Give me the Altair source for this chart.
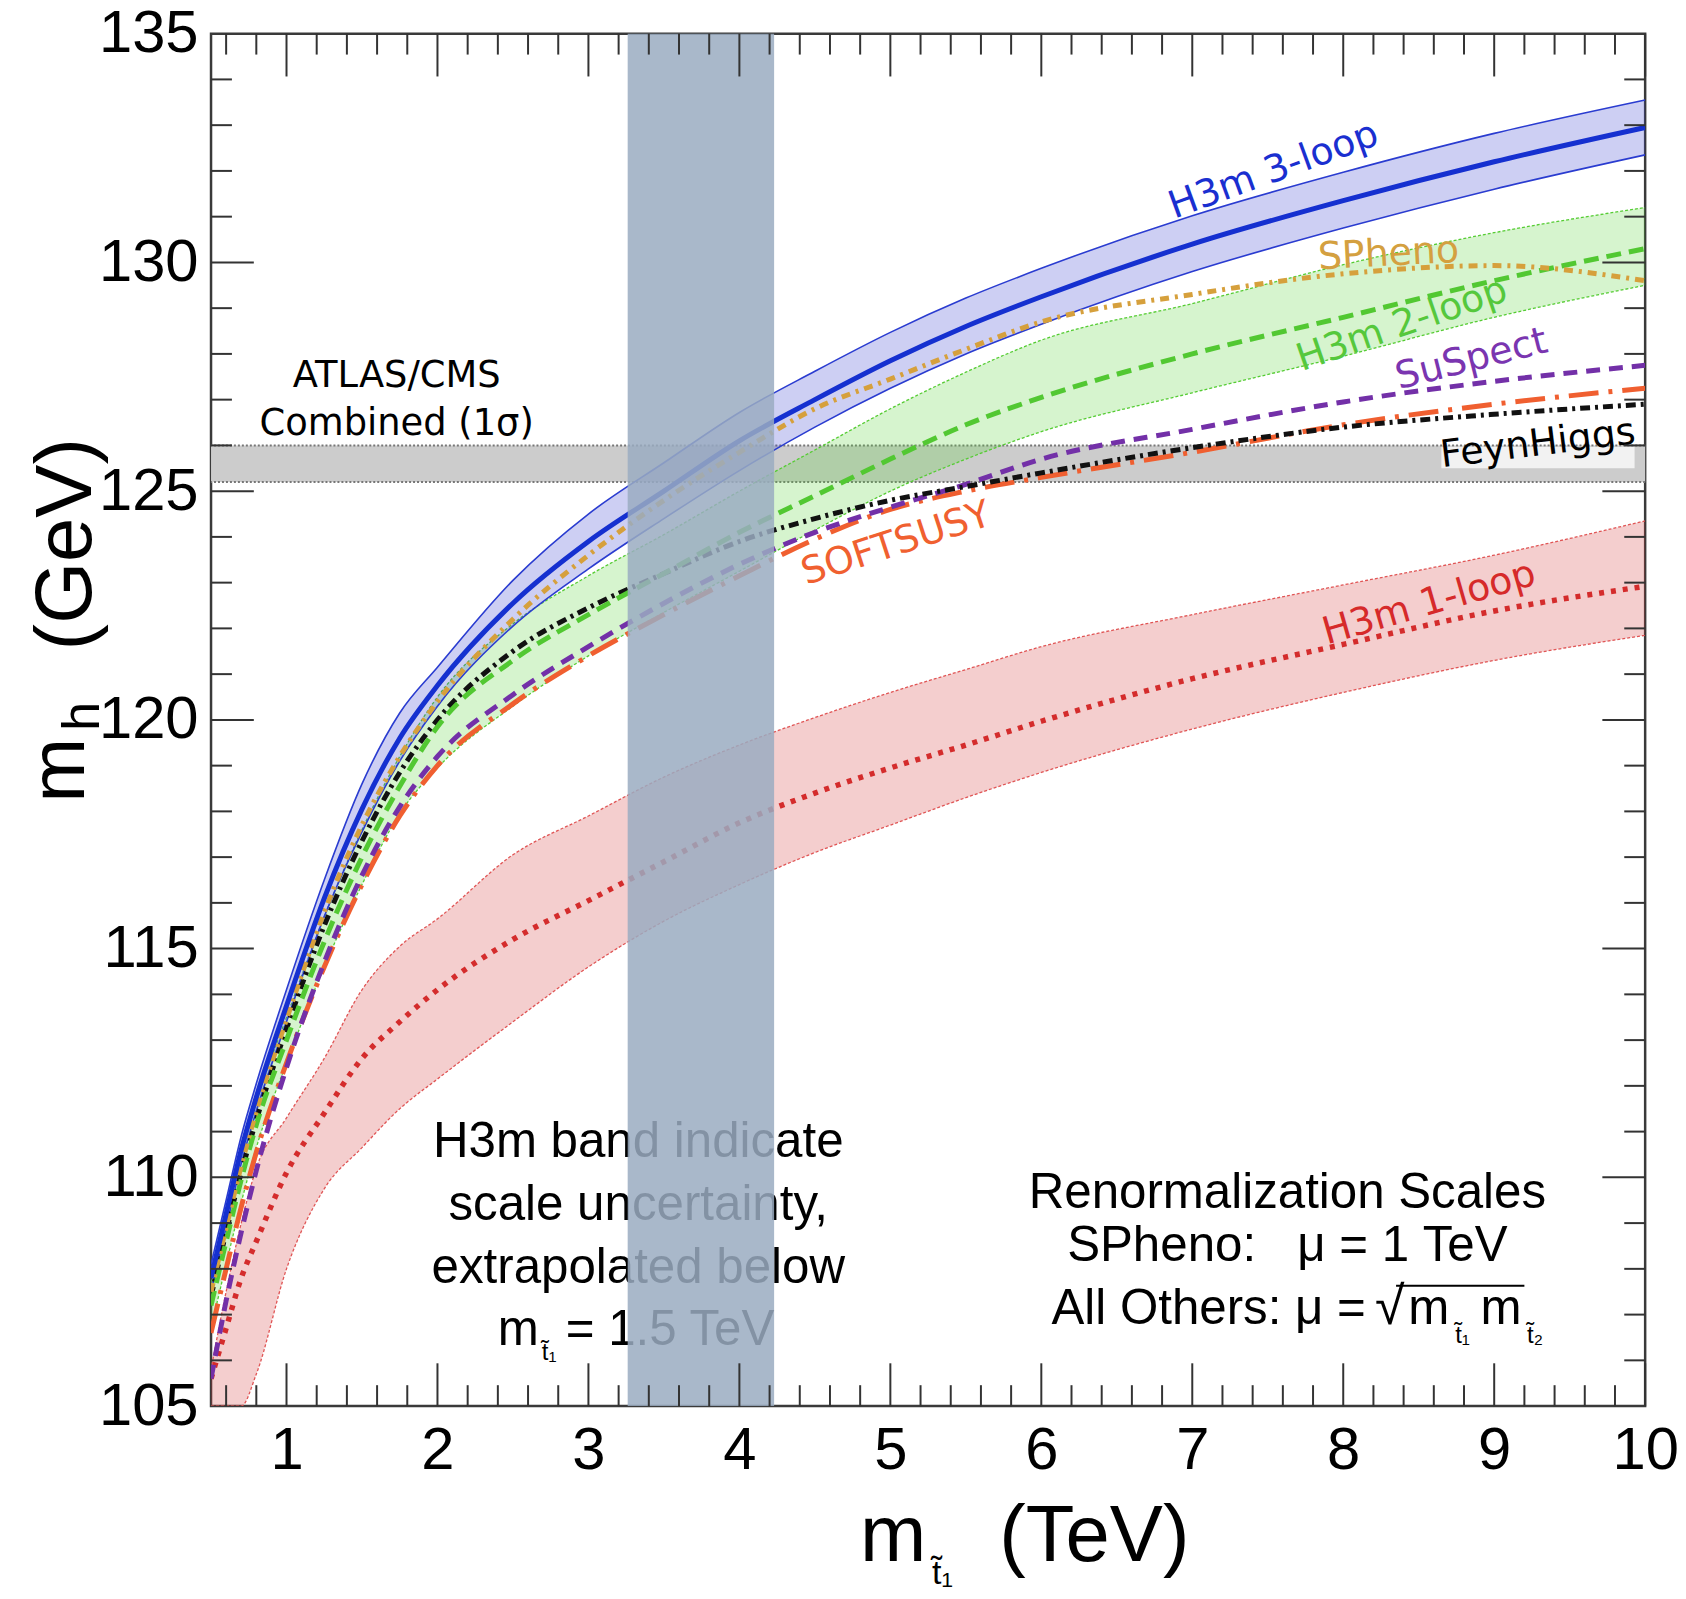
import altair as alt
import pandas as pd

# ---------------- data ----------------
X = [0.5, 0.6, 0.7, 0.8, 1.0, 1.25, 1.5, 1.75, 2.0, 2.5, 3.0, 3.5, 4.0, 4.5, 5.0, 5.5, 6.0, 7.0, 8.0, 9.0, 10.0]

H3M3_MID = [107.8, 109.2, 110.6, 111.75, 113.75, 116.1, 118.05, 119.6, 120.75, 122.55, 123.9, 125.0, 126.1, 127.0, 127.85, 128.6, 129.25, 130.4, 131.35, 132.2, 132.95]
H3M3_UP = [108.1, 109.5, 110.9, 112.05, 114.1, 116.5, 118.6, 120.15, 121.15, 123.05, 124.5, 125.62, 126.72, 127.62, 128.47, 129.22, 129.87, 131.02, 131.97, 132.82, 133.55]
H3M3_LO = [107.5, 108.9, 110.3, 111.45, 113.4, 115.7, 117.55, 119.1, 120.3, 122.05, 123.3, 124.4, 125.45, 126.4, 127.25, 128.0, 128.65, 129.8, 130.75, 131.6, 132.35]

H3M2_MID = [107.2, 108.6, 109.95, 111.15, 113.0, 115.15, 117.0, 118.55, 119.85, 121.3, 122.3, 123.2, 124.1, 124.9, 125.7, 126.45, 127.05, 128.0, 128.8, 129.6, 130.3]
H3M2_UP = [107.7, 109.1, 110.45, 111.65, 113.5, 115.7, 117.6, 119.2, 120.5, 122.1, 123.15, 124.05, 125.0, 125.9, 126.8, 127.6, 128.3, 129.1, 129.95, 130.65, 131.2]
H3M2_LO = [106.7, 108.1, 109.45, 110.65, 112.5, 114.6, 116.4, 117.95, 118.95, 120.3, 121.4, 122.35, 123.25, 124.15, 125.0, 125.7, 126.3, 127.15, 127.95, 128.8, 129.5]

H3M1_MID = [105.6, 106.7, 107.8, 108.6, 110.1, 111.4, 112.6, 113.4, 114.1, 115.2, 116.05, 116.9, 117.75, 118.4, 118.95, 119.45, 119.97, 120.9, 121.65, 122.38, 122.92]
H3M1_UP = [105.8, 107.5, 109.0, 110.2, 111.3, 112.6, 114.1, 115.05, 115.65, 117.05, 117.9, 118.75, 119.45, 120.05, 120.6, 121.1, 121.6, 122.3, 122.95, 123.6, 124.35]
H3M1_LO = [105.0, 105.0, 105.0, 105.7, 108.0, 109.75, 110.65, 111.5, 112.15, 113.4, 114.6, 115.6, 116.4, 117.1, 117.7, 118.3, 118.85, 119.8, 120.6, 121.3, 121.85]

SPHENO = [107.5, 108.9, 110.25, 111.45, 113.45, 115.8, 117.7, 119.2, 120.4, 122.2, 123.6, 124.8, 125.85, 126.8, 127.45, 128.1, 128.7, 129.3, 129.75, 129.93, 129.6]
FEYNHIGGS = [107.4, 108.8, 110.1, 111.25, 113.25, 115.5, 117.35, 118.85, 120.0, 121.5, 122.45, 123.2, 123.9, 124.4, 124.8, 125.1, 125.4, 125.95, 126.4, 126.68, 126.9]
SUSPECT = [105.6, 107.3, 108.8, 110.15, 112.4, 114.7, 116.6, 118.1, 119.2, 120.55, 121.6, 122.55, 123.4, 124.1, 124.65, 125.15, 125.7, 126.35, 126.95, 127.4, 127.75]
SOFTSUSY = [106.6, 108.0, 109.35, 110.55, 112.5, 114.6, 116.4, 117.9, 119.0, 120.35, 121.4, 122.3, 123.15, 123.95, 124.6, 125.0, 125.3, 125.85, 126.45, 126.9, 127.25]

LHC_BAND = [125.2, 126.0]          # ATLAS/CMS combined 1 sigma
STOP_BAND = [3.26, 4.23]           # shaded vertical region (TeV)
X_RANGE = [0.5, 10.0]
Y_RANGE = [105.0, 135.0]

X_TICK_LABELS = [1, 2, 3, 4, 5, 6, 7, 8, 9, 10]
Y_TICK_LABELS = [105, 110, 115, 120, 125, 130, 135]
X_MINOR = [round(v / 10, 1) for v in range(6, 100, 2) if v % 10 != 0]
Y_MINOR = [v for v in range(106, 135) if v % 5 != 0]

# ---------------- layout ----------------
W, H = 1441, 1379
MAJ, MIN = 43, 21
HELV = "Liberation Sans"
DEJA = "DejaVu Sans"

xs = alt.Scale(domain=X_RANGE, nice=False, zero=False)
ys = alt.Scale(domain=Y_RANGE, nice=False, zero=False)
xaxis = alt.Axis(values=X_TICK_LABELS, title=None, grid=False, ticks=False, domain=False,
                 labelFontSize=60, labelFont=HELV, labelColor="black", labelPadding=16,
                 labelFlush=False, labelOverlap=False, labelAngle=0, format="d")
yaxis = alt.Axis(values=Y_TICK_LABELS, title=None, grid=False, ticks=False, domain=False,
                 labelFontSize=60, labelFont=HELV, labelColor="black", labelPadding=13,
                 labelFlush=False, labelOverlap=False, format="d")


def ex(f):
    return alt.X(f, type="quantitative", scale=xs, axis=xaxis)


def ey(f):
    return alt.Y(f, type="quantitative", scale=ys, axis=yaxis)


def frame(y):
    return pd.DataFrame({"x": X, "y": y})


def band(lo, up, color, op, edge_color, edge_dash, edge_w):
    df = pd.DataFrame({"x": X, "lo": lo, "up": up})
    out = [alt.Chart(df).mark_area(color=color, opacity=op, interpolate="monotone").encode(
        x=ex("x"), y=ey("lo"), y2=alt.Y2("up"))]
    for edge in (lo, up):
        kw = dict(color=edge_color, strokeWidth=edge_w, interpolate="monotone", clip=True)
        if edge_dash:
            kw["strokeDash"] = edge_dash
        out.append(alt.Chart(frame(edge)).mark_line(**kw).encode(x=ex("x"), y=ey("y")))
    return out


def curve(y, color, dash, w):
    kw = dict(color=color, strokeWidth=w, interpolate="monotone", clip=True, strokeCap="butt")
    if dash:
        kw["strokeDash"] = dash
    return alt.Chart(frame(y)).mark_line(**kw).encode(x=ex("x"), y=ey("y"))


one = pd.DataFrame({"a": [0]})


def dtext(txt, x, y, size, color="black", font=HELV, angle=0, align="center", baseline="alphabetic"):
    df = pd.DataFrame({"x": [x], "y": [y], "t": [txt]})
    kw = dict(fontSize=size, font=font, color=color, align=align, baseline=baseline)
    if angle:
        kw["angle"] = angle
    return alt.Chart(df).mark_text(**kw).encode(x=ex("x"), y=ey("y"), text="t:N")


def ptext(txt, px, py, size, angle=0, align="left", baseline="alphabetic"):
    kw = dict(text=txt, fontSize=size, font=HELV, color="black", align=align, baseline=baseline)
    if angle:
        kw["angle"] = angle
    return alt.Chart(one).mark_text(**kw).encode(x=alt.value(px), y=alt.value(py))


layers = []

# LHC band
lhc = pd.DataFrame({"x": [X_RANGE[0]], "x2": [X_RANGE[1]], "y": [LHC_BAND[0]], "y2": [LHC_BAND[1]]})
layers.append(alt.Chart(lhc).mark_rect(color="#cccccc").encode(
    x=ex("x"), x2=alt.X2("x2"), y=ey("y"), y2=alt.Y2("y2")))
lhc_edges = pd.DataFrame({"y": LHC_BAND})
layers.append(alt.Chart(lhc_edges).mark_rule(color="#777777", strokeWidth=2, strokeDash=[2, 2]).encode(
    y=ey("y")))

# FeynHiggs label backdrop
fh_box = pd.DataFrame({"x": [8.65], "x2": [9.93], "y": [125.5], "y2": [125.97]})
layers.append(alt.Chart(fh_box).mark_rect(color="white", opacity=0.75).encode(
    x=ex("x"), x2=alt.X2("x2"), y=ey("y"), y2=alt.Y2("y2")))

# uncertainty bands
layers += band(H3M1_LO, H3M1_UP, "#d23c3c", 0.25, "#e05555", [3, 2], 1.3)
layers += band(H3M2_LO, H3M2_UP, "#5ad23c", 0.25, "#55cc33", [3, 2], 1.3)
layers += band(H3M3_LO, H3M3_UP, "#3c46d2", 0.26, "#2a3cd0", None, 1.6)

# central curves
layers.append(curve(H3M1_MID, "#d42c2c", [5, 7], 5.5))
layers.append(curve(SOFTSUSY, "#f05f30", [30, 10, 4, 10], 5))
layers.append(curve(SUSPECT, "#7330a8", [14, 9], 5))
layers.append(curve(FEYNHIGGS, "#111111", [10, 5, 3, 5], 5))
layers.append(curve(H3M2_MID, "#52c832", [15, 8], 5))
layers.append(curve(SPHENO, "#d6a03c", [9, 6, 3, 6], 5))
layers.append(curve(H3M3_MID, "#1530d0", None, 5))

# curve labels
CURVE_LABELS = [
    ("H3m 3-loop", 7.54, 132.0, 340, "#1a2fd0"),
    ("SPheno", 8.30, 130.17, 357, "#d4a040"),
    ("H3m 2-loop", 8.39, 128.63, 341, "#55c83c"),
    ("SuSpect", 8.85, 127.87, 346, "#7a35b0"),
    ("FeynHiggs", 9.29, 126.02, 353, "#000000"),
    ("SOFTSUSY", 5.04, 123.84, 342, "#f06030"),
    ("H3m 1-loop", 8.57, 122.54, 344, "#d62a2a"),
]
for t, x, y, a, c in CURVE_LABELS:
    layers.append(dtext(t, x, y, 38, color=c, font=DEJA, angle=a, baseline="middle"))

layers.append(dtext("ATLAS/CMS", 1.73, 127.52, 37, font=DEJA, baseline="middle"))
layers.append(dtext("Combined (1σ)", 1.73, 126.47, 37, font=DEJA, baseline="middle"))

# bottom-left note
BL_LINES = ["H3m band indicate", "scale uncertainty,", "extrapolated below"]
BL_Y = [110.44, 109.07, 107.70]
for t, y in zip(BL_LINES, BL_Y):
    layers.append(dtext(t, 3.33, y, 49.5))
layers.append(dtext("m", 2.40, 106.33, 49.5, align="left"))
layers.append(dtext("t\u0303\u2081", 2.74, 106.0, 24))
layers.append(dtext("= 1.5 TeV", 2.85, 106.33, 49.5, align="left"))

# bottom-right note
layers.append(dtext("Renormalization Scales", 7.63, 109.33, 49.5))
layers.append(dtext("SPheno:\u00a0\u00a0 μ = 1 TeV", 7.63, 108.18, 49.5))
layers.append(dtext("All Others: μ =", 8.15, 106.79, 49.5, align="right"))
layers.append(dtext("√", 8.21, 106.79, 54, align="left"))
layers.append(dtext("m", 8.43, 106.79, 49.5, align="left"))
layers.append(dtext("t\u0303\u2081", 8.79, 106.39, 24))
layers.append(dtext("m", 8.91, 106.79, 49.5, align="left"))
layers.append(dtext("t\u0303\u2082", 9.27, 106.39, 24))
ovl = pd.DataFrame({"x": [8.35], "x2": [9.2], "y": [107.63]})
layers.append(alt.Chart(ovl).mark_rule(color="black", strokeWidth=2).encode(
    x=ex("x"), x2=alt.X2("x2"), y=ey("y")))

# shaded stop-mass region (drawn over curves and text)
sb = pd.DataFrame({"x": [STOP_BAND[0]], "x2": [STOP_BAND[1]], "y": [Y_RANGE[0]], "y2": [Y_RANGE[1]]})
layers.append(alt.Chart(sb).mark_rect(color="#9aacc1", opacity=0.85).encode(
    x=ex("x"), x2=alt.X2("x2"), y=ey("y"), y2=alt.Y2("y2")))


# inward ticks on all four sides
def xticks(vals, length):
    df = pd.DataFrame({"x": vals})
    top = alt.Chart(df).mark_rule(color="#333333", strokeWidth=2).encode(
        x=ex("x"), y=alt.value(0), y2=alt.value(length))
    bot = alt.Chart(df).mark_rule(color="#333333", strokeWidth=2).encode(
        x=ex("x"), y=alt.value(H), y2=alt.value(H - length))
    return [top, bot]


def yticks(vals, length):
    df = pd.DataFrame({"y": vals})
    left = alt.Chart(df).mark_rule(color="#333333", strokeWidth=2).encode(
        y=ey("y"), x=alt.value(0), x2=alt.value(length))
    right = alt.Chart(df).mark_rule(color="#333333", strokeWidth=2).encode(
        y=ey("y"), x=alt.value(W), x2=alt.value(W - length))
    return [left, right]


layers += xticks(X_TICK_LABELS, MAJ) + xticks(X_MINOR, MIN)
layers += yticks(Y_TICK_LABELS[1:-1], MAJ) + yticks(Y_MINOR, MIN)

# axis titles
layers.append(ptext("(GeV)", -121, 513, 80, angle=270, align="center"))
layers.append(ptext("m", -128, 740, 78, angle=270, align="center"))
layers.append(ptext("h", -113, 686, 52, angle=270, align="center"))
layers.append(ptext("m", 652, 1535, 80))
layers.append(ptext("t\u0303\u2081", 735, 1558, 34, align="center"))
layers.append(ptext("(TeV)", 792, 1535, 80))

chart = alt.layer(*layers).properties(
    width=W, height=H,
    autosize=alt.AutoSizeParams(type="none"),
    padding={"left": 204, "top": 22, "right": 33, "bottom": 182},
    background="white",
).configure_view(stroke="#3a3a3a", strokeWidth=2.5)

chart.save("out.html", embed_options={"renderer": "svg", "actions": False})
